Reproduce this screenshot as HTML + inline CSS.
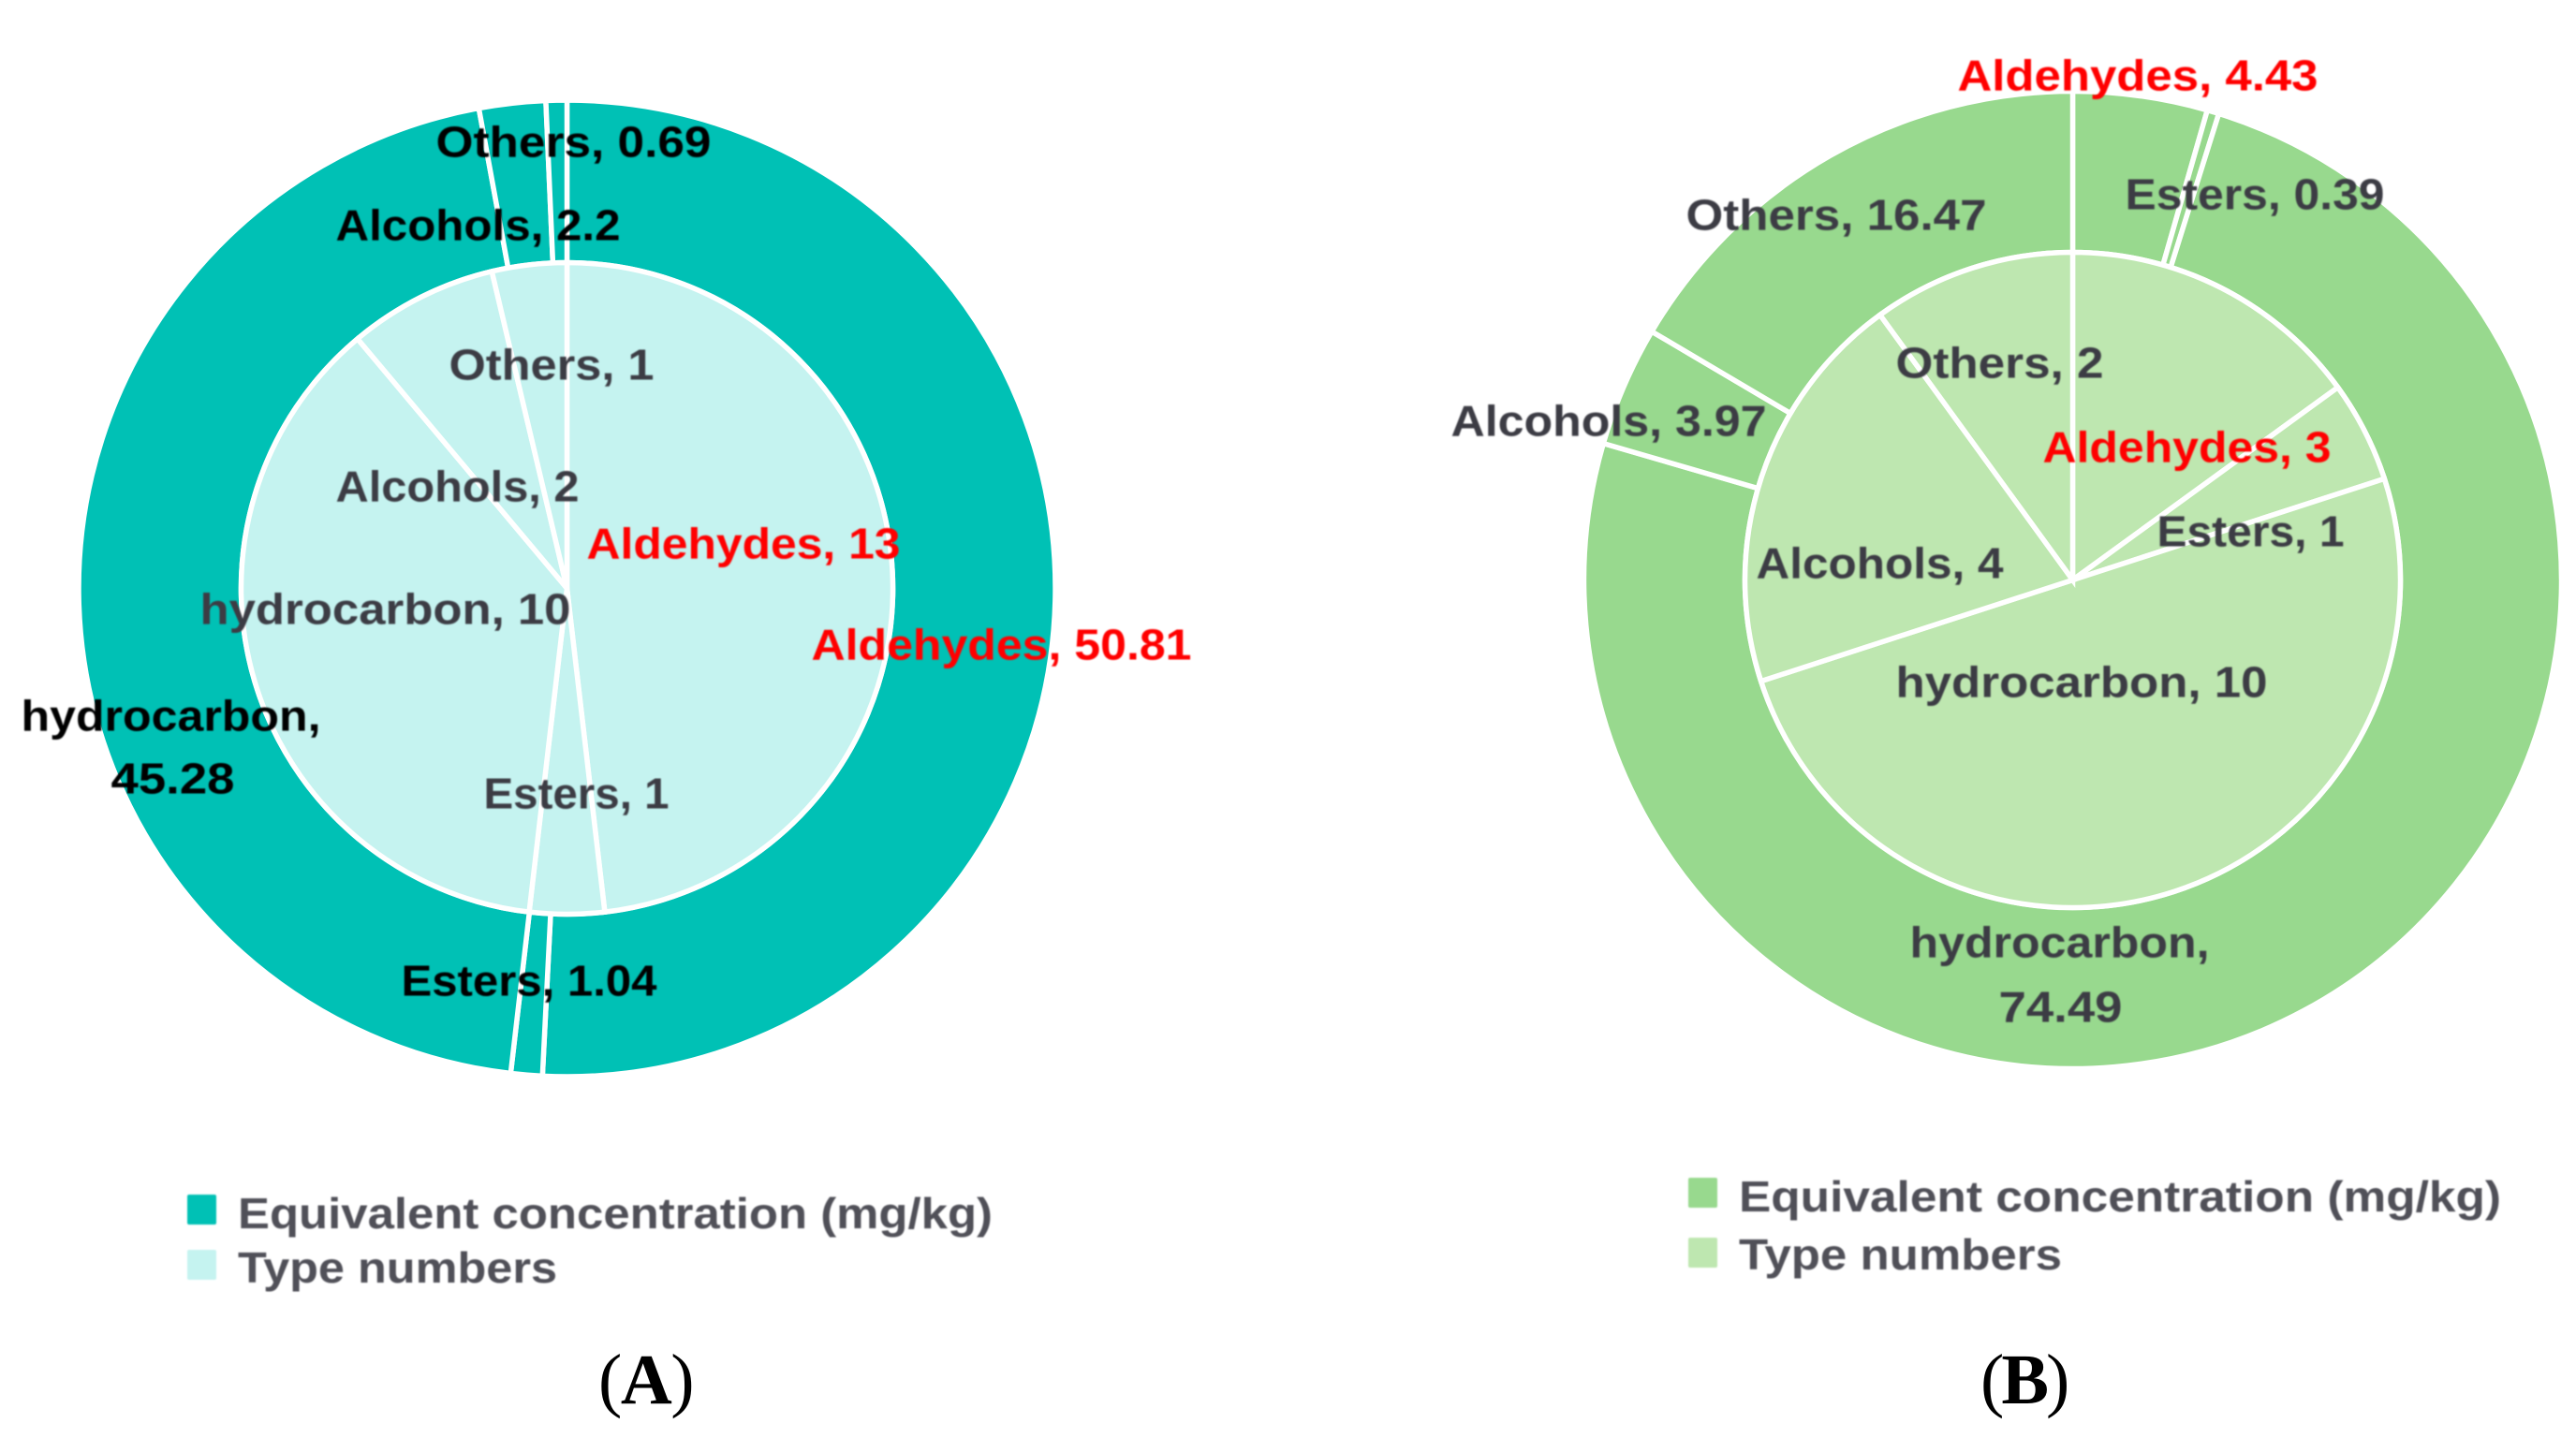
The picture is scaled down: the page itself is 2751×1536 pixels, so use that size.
<!DOCTYPE html>
<html>
<head>
<meta charset="utf-8">
<title>Nested pie charts A and B</title>
<style>
html,body{margin:0;padding:0;background:#fff;}
#figure{display:block;width:2751px;height:1536px;}
.lab{font-family:"Liberation Sans",sans-serif;font-size:46px;font-weight:700;}
.ser{font-family:"Liberation Serif",serif;font-size:76px;fill:#000;letter-spacing:-1.5px;}
.soft{filter:blur(0.9px);}
</style>
</head>
<body>
<svg id="figure" xmlns="http://www.w3.org/2000/svg" width="2751" height="1536" viewBox="0 0 2751 1536">
  <g id="marks"></g>
  <g id="labels" class="soft" transform="translate(-2.5,-1.5)"></g>

  <g class="soft" transform="translate(-1,-2)">
    <rect x="201" y="1278" width="31" height="32" rx="2" fill="#00C1B5"/>
    <text class="lab" x="255" y="1314" fill="#505058" textLength="806" lengthAdjust="spacingAndGlyphs">Equivalent concentration (mg/kg)</text>
    <rect x="201" y="1337" width="31" height="32" rx="2" fill="#C5F3F0"/>
    <text class="lab" x="255" y="1372" fill="#505058" textLength="341" lengthAdjust="spacingAndGlyphs">Type numbers</text>
  </g>
  <g class="soft" transform="translate(-3,-2)">
    <rect x="1806" y="1260" width="31" height="32" rx="2" fill="#98D98E"/>
    <text class="lab" x="1860" y="1296" fill="#505058" textLength="814" lengthAdjust="spacingAndGlyphs">Equivalent concentration (mg/kg)</text>
    <rect x="1806" y="1324" width="31" height="32" rx="2" fill="#BEE7B0"/>
    <text class="lab" x="1860" y="1358" fill="#505058" textLength="345" lengthAdjust="spacingAndGlyphs">Type numbers</text>
  </g>

  <text class="ser" x="639" y="1499">(<tspan font-weight="700">A</tspan>)</text>
  <text class="ser" x="2115" y="1499" style="letter-spacing:-3px">(<tspan font-weight="700">B</tspan>)</text>
</svg>

<script>
// Chart data, in clockwise order from 12 o'clock
const categories = ['Aldehydes', 'Esters', 'hydrocarbon', 'Alcohols', 'Others'];
const concentrationA = [50.81, 1.04, 45.28, 2.2, 0.69];
const typeNumbersA = [13, 1, 10, 2, 1];
const concentrationB = [4.43, 0.39, 74.49, 3.97, 16.47];
const typeNumbersB = [3, 1, 10, 4, 2];

const NS = 'http://www.w3.org/2000/svg';
const marksLayer = document.getElementById('marks');
const labelsLayer = document.getElementById('labels');

function angleScale(values) {
  const total = values.reduce(function (s, v) { return s + v; }, 0);
  return function (cum) { return cum / total * 2 * Math.PI; };
}

function slicePath(cx, cy, r0, r1, a0, a1) {
  const large = a1 - a0 > Math.PI ? 1 : 0;
  const px = function (r, a) { return (cx + r * Math.sin(a)).toFixed(2); };
  const py = function (r, a) { return (cy - r * Math.cos(a)).toFixed(2); };
  let d = 'M' + px(r1, a0) + ' ' + py(r1, a0) +
    ' A' + r1 + ' ' + r1 + ' 0 ' + large + ' 1 ' + px(r1, a1) + ' ' + py(r1, a1);
  if (r0 > 0) {
    d += ' L' + px(r0, a1) + ' ' + py(r0, a1) +
      ' A' + r0 + ' ' + r0 + ' 0 ' + large + ' 0 ' + px(r0, a0) + ' ' + py(r0, a0) + ' Z';
  } else {
    d += ' L' + cx + ' ' + cy + ' Z';
  }
  return d;
}

function drawRing(panel, ring, values, geom, fill) {
  const toAngle = angleScale(values);
  let cum = 0;
  values.forEach(function (v, i) {
    const p = document.createElementNS(NS, 'path');
    p.setAttribute('d', slicePath(geom.cx, geom.cy, geom.r0, geom.r1, toAngle(cum), toAngle(cum + v)));
    p.setAttribute('fill', fill);
    p.setAttribute('stroke', '#fff');
    p.setAttribute('stroke-width', '5.5');
    
    
    marksLayer.appendChild(p);
    cum += v;
  });
}

function addLabel(name, content, x, y, w, color) {
  const t = document.createElementNS(NS, 'text');
  t.setAttribute('class', 'lab');
  t.setAttribute('x', x);
  t.setAttribute('y', y);
  t.setAttribute('fill', color);
  t.setAttribute('textLength', w);
  t.setAttribute('lengthAdjust', 'spacingAndGlyphs');
  
  
  t.textContent = content;
  labelsLayer.appendChild(t);
}

function drawLabels(panel, ring, values, placement, color) {
  categories.forEach(function (cat, i) {
    const place = placement[i];
    const col = i === 0 ? '#FF0000' : color;
    const nm = 'label-' + panel + '-' + ring + '-' + cat.toLowerCase();
    if (place.length === 3) {
      addLabel(nm, cat + ', ' + values[i], place[0], place[1], place[2], col);
    } else {
      addLabel(nm, cat + ',', place[0], place[1], place[2], col);
      addLabel(nm + '-value', String(values[i]), place[3], place[4], place[5], col);
    }
  });
}

drawRing('a', 'outer', concentrationA, {cx: 605.5, cy: 628.5, r0: 348, r1: 521.5}, '#00C1B5');
drawRing('a', 'inner', typeNumbersA, {cx: 605.5, cy: 628.5, r0: 0, r1: 348}, '#C5F3F0');
drawRing('b', 'outer', concentrationB, {cx: 2213.5, cy: 619.5, r0: 350, r1: 522}, '#98D98E');
drawRing('b', 'inner', typeNumbersB, {cx: 2213.5, cy: 619.5, r0: 0, r1: 350}, '#BEE7B0');

// Label placement is hand-positioned per category (x, baseline, width)
drawLabels('a', 'outer', concentrationA, [
  [869, 706, 406], [431, 1065, 273], [25, 782, 320, 121, 849, 132], [361, 258, 304], [468, 169, 294]
], '#000000');
drawLabels('a', 'inner', typeNumbersA, [
  [629, 598, 335], [519, 865, 198], [216, 668, 396], [361, 537, 260], [482, 407, 219]
], '#3C3C44');
drawLabels('b', 'outer', concentrationB, [
  [2093, 98, 385], [2272, 225, 277], [2042, 1024, 320, 2137, 1093, 132], [1552, 467, 337], [1803, 247, 321]
], '#3C3C44');
drawLabels('b', 'inner', typeNumbersB, [
  [2184, 495, 308], [2306, 585, 200], [2027, 746, 397], [1878, 619, 264], [2027, 405, 222]
], '#3C3C44');
</script>
</body>
</html>
